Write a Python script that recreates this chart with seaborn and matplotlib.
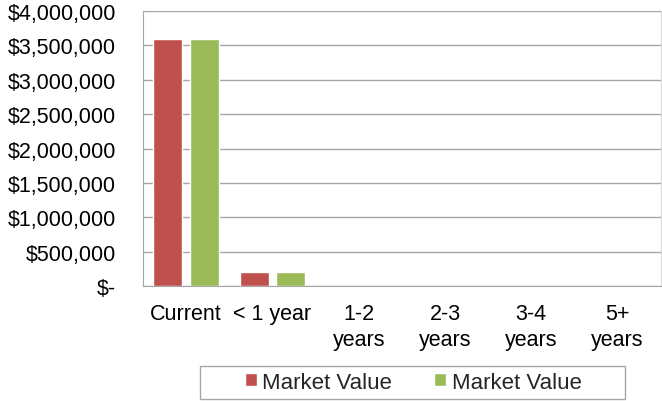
import pandas as pd
import matplotlib.pyplot as plt
import seaborn as sns
from matplotlib.patches import Rectangle
from matplotlib.ticker import FuncFormatter

plt.switch_backend("Agg")

# data
categories = ["Current", "< 1 year", "1-2\nyears", "2-3\nyears", "3-4\nyears", "5+\nyears"]
series_a = [3600000, 200000, 0, 0, 0, 0]
series_b = [3600000, 200000, 0, 0, 0, 0]
series_labels = ["Market Value", "Market Value"]
colors = ["#C0504D", "#9BBB59"]

df = pd.DataFrame({
    "category": categories * 2,
    "value": series_a + series_b,
    "series": ["a"] * len(categories) + ["b"] * len(categories),
})

sns.set_style("white")
plt.rcParams["font.family"] = ["Liberation Sans", "DejaVu Sans"]
plt.rcParams["font.size"] = 15.5

fig, ax = plt.subplots(figsize=(6.62, 4.02), dpi=100)
fig.subplots_adjust(left=0.216, right=0.998, top=0.970, bottom=0.286)

sns.barplot(data=df, x="category", y="value", hue="series", palette=colors,
            width=0.845, gap=0.2, saturation=1, ax=ax, legend=True)

ax.set_ylim(0, 4000000)
ax.set_yticks(range(0, 4000001, 500000))
ax.yaxis.set_major_formatter(FuncFormatter(lambda v, p: "$-" if v == 0 else f"${v:,.0f}"))
ax.grid(axis="y", color="#a6a6a6", linewidth=1)
ax.set_axisbelow(True)
ax.set_xlabel("")
ax.set_ylabel("")

ax.spines["top"].set_visible(False)
ax.spines["left"].set_color("#a6a6a6")
ax.spines["bottom"].set_color("#a6a6a6")
ax.spines["right"].set_color("#d9d9d9")
ax.tick_params(axis="y", length=2.5, color="#a6a6a6", labelsize=15.5, pad=17, labelcolor="black")
ax.tick_params(axis="x", length=0, labelsize=15.5, pad=12, labelcolor="black")
for lbl in ax.get_xticklabels():
    lbl.set_linespacing(1.35)

# legend: entries without frame, box drawn separately like the spreadsheet legend
handles, _ = ax.get_legend_handles_labels()
ax.legend_.remove()
leg = fig.legend(handles, series_labels, loc="center", bbox_to_anchor=(0.624, 0.047),
                 ncol=2, frameon=False, fontsize=16,
                 handlelength=0.55, handleheight=0.55, handletextpad=0.23,
                 columnspacing=1.9, borderpad=0, borderaxespad=0)
fig.patches.append(Rectangle((200 / 662, 1 - 400 / 402), 425 / 662, 33 / 402,
                             transform=fig.transFigure, fill=False,
                             edgecolor="#a6a6a6", linewidth=1))

fig.savefig("out.png", dpi=100)
